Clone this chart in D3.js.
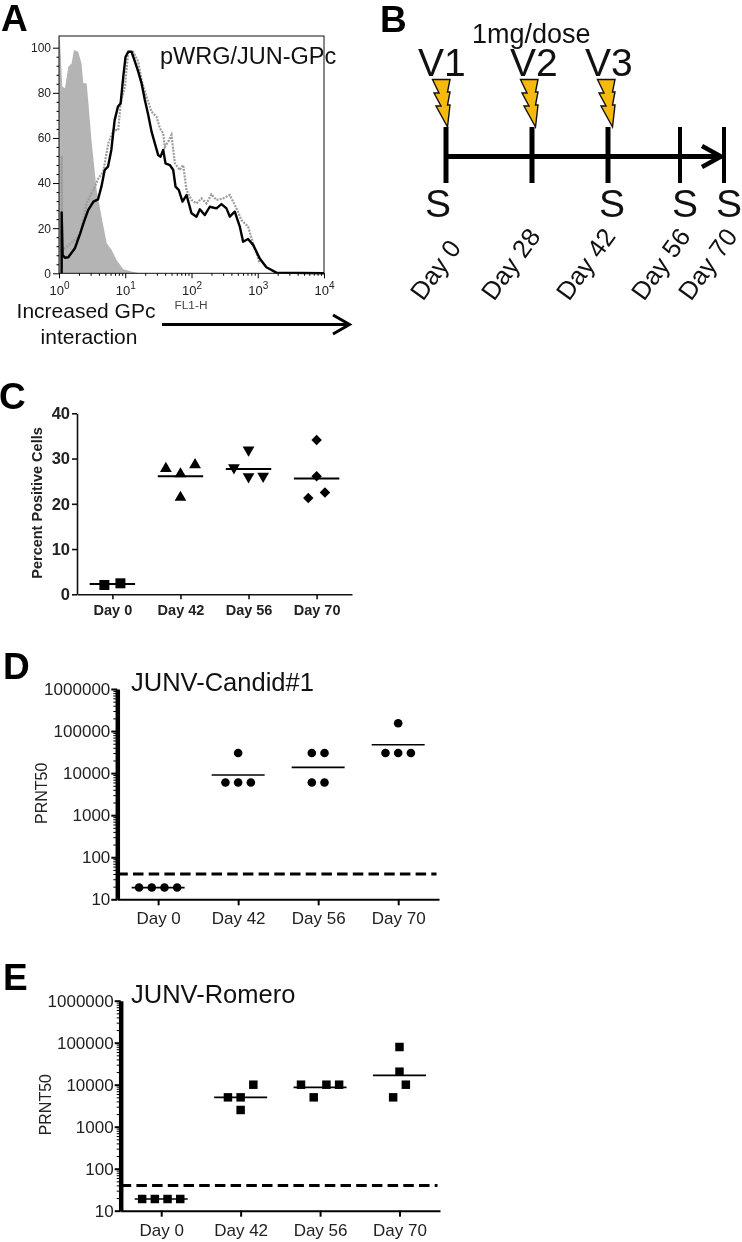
<!DOCTYPE html>
<html><head><meta charset="utf-8">
<script src="https://cdn.jsdelivr.net/npm/d3@7/dist/d3.min.js"></script>
<style>html,body{margin:0;background:#fff}svg{display:block;font-family:"Liberation Sans",Arial,sans-serif;filter:blur(.4px)}</style>
</head><body><svg id="c" width="742" height="1242"></svg>
<script>
// ---- Panel A: histogram traces, [log10 FL1-H, % of max]
const isotypeTrace=[[0,0],[0,105],[.015,103],[.05,82.7],[.09,82],[.14,91.6],[.19,93],[.226,99],[.29,98.2],[.34,93],[.367,84.2],[.417,84.2],[.44,76.8],[.49,59],[.568,36.9],[.643,25],[.72,13.3],[.794,10.3],[.87,5.9],[.97,1.8],[1.12,.6],[1.22,0]];
const blackTrace=[[.04,0],[.04,27],[.055,8.1],[.09,6.9],[.14,7.1],[.24,11.1],[.32,17.7],[.37,22.2],[.44,28],[.52,31.8],[.59,32.8],[.64,38.4],[.69,45.8],[.74,47.3],[.79,54.7],[.84,67.9],[.89,73.9],[.93,75.3],[.97,87.1],[1.005,96],[1.045,98.2],[1.095,98.2],[1.146,93.8],[1.196,89.4],[1.246,84.2],[1.296,76.8],[1.347,70.2],[1.397,62.8],[1.447,57.6],[1.497,52.4],[1.533,51.7],[1.573,54.7],[1.608,48.7],[1.673,48],[1.724,45.8],[1.759,38.4],[1.809,36.9],[1.864,31.8],[1.925,34.7],[2,26.6],[2.075,25.1],[2.126,28.4],[2.2,25.8],[2.276,29.5],[2.377,28.8],[2.452,30.7],[2.528,28.8],[2.578,25.1],[2.653,27.3],[2.729,20.7],[2.779,14],[2.854,15.2],[2.93,12.6],[3.03,6.6],[3.13,2.7],[3.281,.3],[4,0]];
const greyTrace=[[.04,0],[.04,52],[.05,10],[.32,17],[.417,31],[.518,36.9],[.593,42],[.668,45],[.744,57.6],[.82,63.5],[.894,63.5],[.93,75.3],[.995,82.7],[1.045,98.2],[1.12,98.2],[1.196,93.8],[1.246,85.7],[1.32,78.3],[1.397,71.6],[1.472,69.4],[1.523,64.3],[1.573,62],[1.598,56],[1.648,58.3],[1.698,61.3],[1.749,48.7],[1.824,45.8],[1.874,48],[1.925,36.9],[2,32.5],[2.075,31],[2.15,33.2],[2.226,31],[2.3,35],[2.377,32.5],[2.477,33.2],[2.578,34.7],[2.678,28.8],[2.754,23.6],[2.854,20.7],[2.93,13.3],[3.03,4.4]];
const histYTicks=[0,20,40,60,80,100];
const histXDecades=[1,10,100,1000,10000];
// ---- Panel B: schedule
const scheduleDays=[0,28,42,56,70];
const vaccinations=[{label:"V1",day:0},{label:"V2",day:28},{label:"V3",day:42}];
const samplingDays=[0,42,56,70];
// ---- Panel C
const days=["Day 0","Day 42","Day 56","Day 70"];
const pctValues=[[2.06,2.43],[27.8,26.6,28.6,21.4],[28,31.9,26,26.1],[34.1,26.1,21.3,22.5]];
const pctSlots=[[-.55,.55],[-1,0,1,0],[-1,0,0,1],[0,0,-.57,.57]];
const pctMeans=[2.3,26.1,27.7,25.6];
const pctTicks=[0,10,20,30,40];
// ---- Panels D, E
const prntTicks=[10,100,1000,10000,100000,1000000];
const limitOfDetection=40;
const candidValues=[[19,19,19,19],[30000,6000,6000,6000],[30000,30000,6000,6000],[153000,30000,30000,30000]];
const candidSlots=[[-1.5,-.5,.5,1.5],[0,-1,0,1],[-.5,.5,-.5,.5],[0,-1,0,1]];
const candidMeans=[19,9000,13700,47400];
const romeroValues=[[19,19,19,19],[10000,5000,5000,2500],[10000,10000,10000,5000],[79000,20400,10000,5000]];
const romeroSlots=[[-1.5,-.5,.5,1.5],[1,-1,0,0],[-1.5,.5,1.5,-.5],[0,0,.5,-.5]];
const romeroMeans=[19,5000,8650,16700];

const svg=d3.select("#c");
const ink="#000", soft="#222";
function letter(t,x,y){svg.append("text").attr("x",x).attr("y",y).attr("font-size",37).attr("font-weight","bold").attr("fill",ink).text(t);}
function label(t,x,y,fs,o={}){return svg.append("text").attr("x",x).attr("y",y).attr("font-size",fs).attr("fill",o.fill||soft).attr("text-anchor",o.anchor||"start").attr("font-weight",o.weight||"normal").attr("transform",o.rot!=null?`rotate(${o.rot} ${x} ${y})`:null).text(t);}
const logMinors=(lo,hi)=>{const r=[];for(let d=lo;d<hi;d*=10)for(let k=1;k<10;k++)r.push(d*k);r.push(hi);return r;};
const isDecade=v=>Math.abs(Math.log10(v)-Math.round(Math.log10(v)))<1e-9;

// ===== A =====
letter("A",1,31);
(function(){
 const x=d3.scaleLog().domain([1,1e4]).range([59,324]);
 const y=d3.scaleLinear().domain([0,100]).range([273.3,47.7]);
 const top=36;
 const px=d=>x(Math.pow(10,d[0])), py=d=>Math.max(y(d[1]),top);
 svg.append("path").datum(isotypeTrace).attr("fill","#b4b4b4").attr("d",d3.area().x(px).y0(y(0)).y1(py));
 svg.append("path").datum(greyTrace).attr("fill","none").attr("stroke","#9c9c9c").attr("stroke-width",2.2).attr("stroke-dasharray","2 1.2").attr("d",d3.line().x(px).y(py));
 svg.append("path").datum(blackTrace).attr("fill","none").attr("stroke",ink).attr("stroke-width",2.4).attr("stroke-linejoin","round").attr("d",d3.line().x(px).y(py));
 svg.append("rect").attr("x",59).attr("y",top).attr("width",265).attr("height",y(0)-top).attr("fill","none").attr("stroke","#111").attr("stroke-width",1);
 const ya=svg.append("g").attr("transform","translate(59,0)").call(d3.axisLeft(y).tickValues(d3.range(0,101,4)).tickFormat(d=>histYTicks.includes(d)?d:"").tickSize(2.5));
 ya.select(".domain").remove();
 ya.selectAll(".tick").filter(d=>histYTicks.includes(d)).select("line").attr("x2",-6);
 ya.selectAll("text").attr("x",-8).attr("font-size",12).attr("font-family","inherit").attr("fill",soft);
 const xa=svg.append("g").attr("transform",`translate(0,${y(0)})`).call(d3.axisBottom(x).tickValues(logMinors(1,1e4)).tickSize(2.5).tickFormat(""));
 xa.select(".domain").remove();
 xa.selectAll(".tick").filter(isDecade).select("line").attr("y2",5);
 xa.selectAll(".tick").filter(d=>histXDecades.includes(d)).select("text").attr("y",22).attr("dy",0).attr("font-size",13).attr("font-family","inherit").attr("fill",soft)
   .each(function(d){const t=d3.select(this);t.append("tspan").text("10");t.append("tspan").attr("dy",-6).attr("font-size",10).text(Math.round(Math.log10(d)));});
 label("pWRG/JUN-GPc",160,63.5,23.5,{fill:"#111"});
 label("FL1-H",191,309,10,{anchor:"middle",fill:"#444"}).attr("textLength",33).attr("lengthAdjust","spacingAndGlyphs");
 label("Increased GPc",86,318,21,{anchor:"middle",fill:"#111"});
 label("interaction",89,344,21,{anchor:"middle",fill:"#111"});
 svg.append("path").attr("d","M162 324.5H349M333 315L349.5 324.5L333 334").attr("fill","none").attr("stroke",ink).attr("stroke-width",3);
})();

// ===== B =====
letter("B",380,32);
(function(){
 const t=d3.scaleLinear().domain(scheduleDays).range([446,532,608,680,724]);
 const axisY=156.5, tTop=127, tBot=183;
 svg.append("line").attr("x1",t(0)).attr("x2",720).attr("y1",axisY).attr("y2",axisY).attr("stroke",ink).attr("stroke-width",5);
 svg.append("path").attr("d",`M702 146L721 ${axisY}L702 167`).attr("fill","none").attr("stroke",ink).attr("stroke-width",4.5);
 svg.selectAll(".dayTick").data(scheduleDays).join("line").attr("x1",t).attr("x2",t).attr("y1",tTop).attr("y2",tBot).attr("stroke",ink).attr("stroke-width",d=>d>42?4:5);
 const bolt="M1.5 0L-10 -21L-5 -21L-12 -34L-7 -34L-13.5 -47.5L4 -47.5L1.5 -35L4 -35L1.5 -22L4 -22Z";
 svg.selectAll(".bolt").data(vaccinations).join("path").attr("d",bolt).attr("transform",d=>`translate(${t(d.day)+d.day/14},127)`).attr("fill","#f6b90e").attr("stroke","#111").attr("stroke-width",1.4);
 const vOff={0:-28,28:-22,42:-23};
 svg.selectAll(".v").data(vaccinations).join("text").attr("x",d=>t(d.day)+vOff[d.day]).attr("y",76).attr("font-size",39).attr("fill","#111").text(d=>d.label);
 label("1mg/dose",472,43,27,{fill:"#111"});
 const sOff={0:-8,42:4,56:5,70:5};
 svg.selectAll(".s").data(samplingDays).join("text").attr("x",d=>t(d)+sOff[d]).attr("y",217).attr("text-anchor","middle").attr("font-size",39).attr("fill","#111").text("S");
 const labX={0:423,28:494,42:569,56:644,70:691};
 scheduleDays.forEach(d=>label("Day "+d,labX[d],302,25.5,{rot:-54,fill:"#111"}));
})();

// ===== C =====
letter("C",-1,408.5);
(function(){
 const x=d3.scalePoint().domain(days).range([77,352]).padding(.52);
 const y=d3.scaleLinear().domain([0,40]).range([594.3,413.3]);
 const xa=svg.append("g").attr("transform",`translate(0,${y(0)})`).call(d3.axisBottom(x).tickSize(5).tickSizeOuter(0));
 const ya=svg.append("g").attr("transform","translate(77,0)").call(d3.axisLeft(y).tickValues(pctTicks).tickSize(5).tickSizeOuter(0));
 [xa,ya].forEach(a=>{a.select(".domain").attr("stroke","#111").attr("stroke-width",1.6);a.selectAll("line").attr("stroke","#111").attr("stroke-width",1.6);a.selectAll("text").attr("font-family","inherit").attr("font-weight","bold").attr("fill",soft);});
 xa.selectAll("text").attr("font-size",14.5).attr("y",10.5).attr("dy",0).attr("dominant-baseline","hanging");
 ya.selectAll("text").attr("font-size",16.5).attr("x",-7);
 label("Percent Positive Cells",0,0,14.5,{anchor:"middle",weight:"bold"}).attr("transform","translate(42,503) rotate(-90)");
 const sym=[d3.symbol(d3.symbolSquare,100)(),d3.symbol(d3.symbolTriangle,60)(),d3.symbol(d3.symbolTriangle,60)(),d3.symbol(d3.symbolSquare,55)()];
 const rot=[0,0,180,45];
 days.forEach((day,i)=>{
  pctValues[i].forEach((v,j)=>svg.append("path").attr("d",sym[i]).attr("fill",ink).attr("transform",`translate(${x(day)+pctSlots[i][j]*14.6},${y(v)}) rotate(${rot[i]})`));
  svg.append("line").attr("x1",x(day)-22.7).attr("x2",x(day)+22.7).attr("y1",y(pctMeans[i])).attr("y2",y(pctMeans[i])).attr("stroke",ink).attr("stroke-width",2);
 });
})();

// ===== D, E =====
function prnt(o){
 const x=d3.scalePoint().domain(days).range([o.x0,o.x1]).padding(.51);
 const y=d3.scaleLog().domain([10,1e6]).range([o.y0,o.y1]);
 const xa=svg.append("g").attr("transform",`translate(0,${o.y0})`).call(d3.axisBottom(x).tickSize(6).tickSizeOuter(0));
 xa.select(".domain").attr("stroke",ink).attr("stroke-width",2);
 xa.selectAll("line").attr("stroke",ink).attr("stroke-width",2);
 xa.selectAll("text").attr("font-family","inherit").attr("font-size",17).attr("fill",soft).attr("y",13).attr("dy",0).attr("dominant-baseline","hanging");
 const ya=svg.append("g").attr("transform",`translate(${o.x0},0)`).call(d3.axisLeft(y).tickValues(logMinors(10,1e6)).tickSize(4).tickSizeOuter(0).tickFormat(d=>prntTicks.includes(d)?d:""));
 ya.select(".domain").attr("stroke",ink).attr("stroke-width",4.5);
 ya.selectAll("line").attr("stroke",ink).attr("stroke-width",d=>isDecade(d)?2:1);
 ya.selectAll(".tick").filter(d=>isDecade(d)).select("line").attr("x2",-6);
 ya.selectAll("text").attr("font-family","inherit").attr("font-size",17).attr("fill",soft).attr("x",-7);
 label("PRNT50",0,0,16,{anchor:"middle"}).attr("transform",`translate(${o.x0-70},${o.y0-106}) rotate(-90)`);
 label(o.title,131,o.y1+2,25.5,{fill:"#111"});
 svg.append("line").attr("x1",o.x0).attr("x2",o.x1-2.5).attr("y1",y(limitOfDetection)).attr("y2",y(limitOfDetection)).attr("stroke",ink).attr("stroke-width",3).attr("stroke-dasharray","10.5 5.2");
 days.forEach((day,i)=>{
  o.values[i].forEach((v,j)=>svg.append("path").attr("d",o.symbol).attr("fill",ink).attr("transform",`translate(${x(day)+o.slots[i][j]*12.7},${y(v)})`));
  svg.append("line").attr("x1",x(day)-26.5).attr("x2",x(day)+26.5).attr("y1",y(o.means[i])).attr("y2",y(o.means[i])).attr("stroke",ink).attr("stroke-width",1.6);
 });
}
letter("D",3,679);
prnt({x0:117.3,x1:439,y0:899.3,y1:689,title:"JUNV-Candid#1",values:candidValues,slots:candidSlots,means:candidMeans,symbol:d3.symbol(d3.symbolCircle,58)()});
letter("E",3,990);
prnt({x0:120.7,x1:440,y0:1210.7,y1:1000.7,title:"JUNV-Romero",values:romeroValues,slots:romeroSlots,means:romeroMeans,symbol:d3.symbol(d3.symbolSquare,72)()});
</script></body></html>
